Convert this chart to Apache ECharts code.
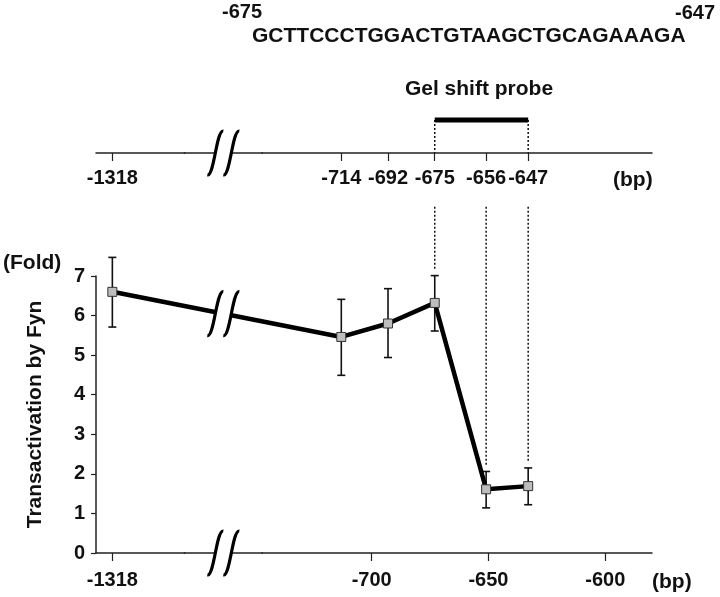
<!DOCTYPE html>
<html>
<head>
<meta charset="utf-8">
<script src="https://cdn.jsdelivr.net/npm/echarts@6.0.0/dist/echarts.min.js"></script>
<style>
html, body { margin: 0; padding: 0; background: #fff; }
#main { width: 720px; height: 597px; }
</style>
</head>
<body>
<div id="main"></div>
<script>
// deletion constructs (5' end, bp) and where each sits on the lower axis
var constructs = ['-1318', '-714', '-692', '-675', '-656', '-647'];
var position = [-1318, -713, -693, -673, -651, -633];
var fold = [6.6, 5.46, 5.8, 6.32, 1.61, 1.69];
var foldHigh = [7.47, 6.41, 6.68, 7.01, 2.06, 2.15];
var foldLow = [5.71, 4.49, 4.94, 5.61, 1.14, 1.22];
var bottomTicks = [-1318, -700, -650, -600];
var probeEnds = [3, 5];      // -675 .. -647
var guides = [3, 4, 5];      // dotted drops into the plot
var sequence = 'GCTTCCCTGGACTGTAAGCTGCAGAAAGA';

var gapStart = -1287, gapEnd = -747;
var FONT = '"Liberation Sans", Arial, sans-serif';
var AXIS_W = 1.5;

var chart = echarts.init(document.getElementById('main'), null, { renderer: 'canvas' });

function xAxisBase(grid) {
    return {
        type: 'value',
        gridIndex: grid,
        min: -1325,
        max: -580,
        breaks: [{ start: gapStart, end: gapEnd, gap: 33 }],
        breakArea: { show: false },
        splitLine: { show: false },
        axisLine: { show: true, onZero: false, lineStyle: { color: '#222', width: AXIS_W } },
        axisTick: { show: true, inside: false, length: 8, lineStyle: { color: '#222', width: 1.2 } },
        axisLabel: {
            color: '#111',
            fontFamily: FONT,
            fontWeight: 'bold',
            fontSize: 20
        }
    };
}

var bottomX = xAxisBase(0);
bottomX.axisTick.customValues = bottomTicks;
bottomX.axisLabel.customValues = bottomTicks;
bottomX.axisLabel.margin = 17;
bottomX.axisLabel.formatter = function (v) { return String(v); };

var topX = xAxisBase(1);
topX.axisTick.customValues = position;
topX.axisLabel.customValues = position;
topX.axisLabel.margin = 15;
topX.axisLabel.formatter = function (v) {
    var i = position.indexOf(v);
    return i >= 0 ? constructs[i] : '';
};

var series = [];

// error bars
series.push({
    type: 'custom',
    xAxisIndex: 0,
    yAxisIndex: 0,
    z: 2,
    clip: false,
    data: position.map(function (x, i) { return [x, foldLow[i], foldHigh[i]]; }),
    renderItem: function (params, api) {
        var top = api.coord([api.value(0), api.value(2)]);
        var bot = api.coord([api.value(0), api.value(1)]);
        var st = { stroke: '#111', lineWidth: 1.6 };
        return {
            type: 'group',
            children: [
                { type: 'line', shape: { x1: top[0], y1: top[1], x2: bot[0], y2: bot[1] }, style: st },
                { type: 'line', shape: { x1: top[0] - 4, y1: top[1], x2: top[0] + 4, y2: top[1] }, style: st },
                { type: 'line', shape: { x1: bot[0] - 4, y1: bot[1], x2: bot[0] + 4, y2: bot[1] }, style: st }
            ]
        };
    }
});

// main curve
series.push({
    type: 'line',
    xAxisIndex: 0,
    yAxisIndex: 0,
    z: 3,
    data: position.map(function (x, i) { return [x, fold[i]]; }),
    symbol: 'rect',
    symbolSize: 9,
    showSymbol: true,
    lineStyle: { color: '#000', width: 4.5 },
    itemStyle: { color: '#bdbdbd', borderColor: '#333', borderWidth: 1 },
    emphasis: { disabled: true }
});

// dotted guides from the top scale down to the data
guides.forEach(function (i) {
    series.push({
        type: 'line',
        xAxisIndex: 0,
        yAxisIndex: 0,
        clip: false,
        symbol: 'none',
        silent: true,
        data: [[position[i], 8.75], [position[i], foldHigh[i] + 0.15]],
        lineStyle: { color: '#111', width: 1.5, type: [2, 2] }
    });
});

// gel shift probe bar on the top scale
series.push({
    type: 'line',
    xAxisIndex: 1,
    yAxisIndex: 1,
    symbol: 'none',
    silent: true,
    clip: false,
    data: probeEnds.map(function (i) { return [position[i], 1]; }),
    lineStyle: { color: '#000', width: 5, cap: 'butt' }
});
probeEnds.forEach(function (i) {
    series.push({
        type: 'line',
        xAxisIndex: 1,
        yAxisIndex: 1,
        symbol: 'none',
        silent: true,
        clip: false,
        data: [[position[i], 1], [position[i], 0]],
        lineStyle: { color: '#111', width: 1.5, type: [2, 2] }
    });
});

var option = {
    backgroundColor: '#fff',
    animation: false,
    grid: [
        { left: 96, right: 68, top: 276, bottom: 44 },
        { left: 96, right: 68, top: 120, height: 33 }
    ],
    xAxis: [bottomX, topX],
    yAxis: [{
        type: 'value',
        gridIndex: 0,
        min: 0,
        max: 7,
        interval: 1,
        name: 'Transactivation by Fyn',
        nameLocation: 'middle',
        nameGap: 50,
        nameRotate: 90,
        nameTextStyle: { color: '#111', fontFamily: FONT, fontWeight: 'bold', fontSize: 21 },
        splitLine: { show: false },
        axisLine: { show: true, lineStyle: { color: '#222', width: AXIS_W } },
        axisTick: { show: true, length: 5, lineStyle: { color: '#222', width: 1.2 } },
        axisLabel: { color: '#111', fontFamily: FONT, fontWeight: 'bold', fontSize: 20, margin: 11 }
    }, {
        type: 'value',
        gridIndex: 1,
        min: 0,
        max: 1,
        show: false
    }],
    series: series
};

chart.setOption(option);

// free text
function txt(s, x, y, align, size) {
    return {
        type: 'text',
        silent: true,
        style: {
            text: s, x: x, y: y,
            textAlign: align,
            textVerticalAlign: 'middle',
            font: 'bold ' + size + 'px ' + FONT,
            fill: '#111'
        }
    };
}

var gx0 = chart.convertToPixel({ xAxisIndex: 0 }, gapStart);
var gx1 = chart.convertToPixel({ xAxisIndex: 0 }, gapEnd);
var bx = (gx0 + gx1) / 2;

// the axis line runs on through the gap, only the "//" marks it
function axisFill(y) {
    return {
        type: 'line',
        silent: true,
        z: 99,
        shape: { x1: gx0 - 1, y1: y, x2: gx1 + 1, y2: y },
        style: { stroke: '#222', lineWidth: AXIS_W }
    };
}

// "//" break marks
function breakMark(cx, cy) {
    var els = [{
        type: 'rect',
        silent: true,
        shape: { x: cx - 8, y: cy - 6, width: 16, height: 12 },
        style: { fill: '#fff' },
        z: 100
    }];
    [-8, 8].forEach(function (d) {
        var sx = cx + d;
        els.push({
            type: 'bezierCurve',
            silent: true,
            z: 101,
            shape: {
                x1: sx - 8, y1: cy + 22,
                cpx1: sx - 1, cpy1: cy + 23,
                cpx2: sx + 1, cpy2: cy - 23,
                x2: sx + 8, y2: cy - 22
            },
            style: { stroke: '#000', lineWidth: 3.2, fill: null }
        });
    });
    return els;
}

var p0 = chart.convertToPixel({ xAxisIndex: 0, yAxisIndex: 0 }, [position[0], fold[0]]);
var p1 = chart.convertToPixel({ xAxisIndex: 0, yAxisIndex: 0 }, [position[1], fold[1]]);
var lineY = p0[1] + (p1[1] - p0[1]) * (bx - p0[0]) / (p1[0] - p0[0]);
var axisY = chart.convertToPixel({ yAxisIndex: 0 }, 0);
var topAxisY = chart.convertToPixel({ yAxisIndex: 1 }, 0);

var elements = [
    txt('-675', 222, 12, 'left', 20),
    txt('-647', 715, 13, 'right', 20),
    txt(sequence, 252, 36, 'left', 21),
    txt('Gel shift probe', 479, 89, 'center', 21),
    txt('(bp)', 613, 180, 'left', 21),
    txt('(Fold)', 3, 263, 'left', 21),
    txt('(bp)', 652, 582, 'left', 21),
    axisFill(axisY),
    axisFill(topAxisY)
];
elements = elements.concat(breakMark(bx, lineY), breakMark(bx, axisY), breakMark(bx, topAxisY));

chart.setOption({ graphic: { elements: elements } });
</script>
</body>
</html>
